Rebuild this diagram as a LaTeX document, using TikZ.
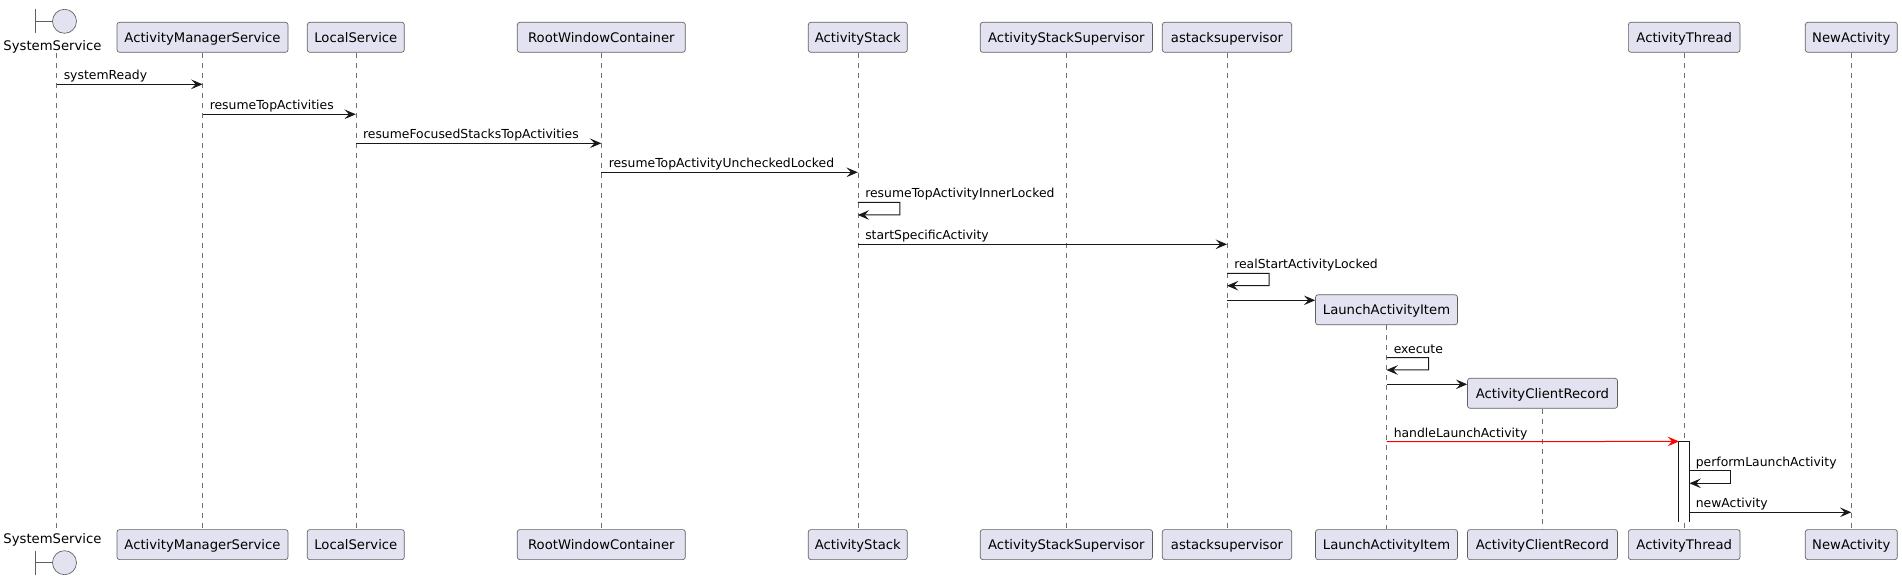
\documentclass[tikz,border=0pt]{standalone}
\usepackage{fontspec}
\setmainfont{DejaVu Sans}
\usetikzlibrary{arrows.meta}
\definecolor{pbox}{HTML}{E2E2F0}
\definecolor{pline}{HTML}{181818}
\definecolor{pborder}{HTML}{606060}
\definecolor{plife}{HTML}{707070}
\definecolor{hred}{HTML}{FF0000}
\begin{document}
\begin{tikzpicture}[x=0.75pt,y=-0.75pt,
  part/.style={draw=pborder, line width=0.5pt, fill=pbox, rounded corners=1.9pt,
    minimum height=22.5pt, inner sep=0pt, text height=0.74em, text depth=0pt,
    font=\fontsize{9.9}{12}\selectfont},
  plabel/.style={inner sep=0pt, font=\fontsize{9.9}{12}\selectfont},
  bnd/.style={draw=pborder, line width=0.5pt},
  life/.style={draw=plife, line width=0.45pt, dash pattern=on 3.75pt off 3.75pt},
  msg/.style={font=\fontsize{9.3}{11}\selectfont, inner sep=0pt, anchor=base west},
  arr/.style={draw=pline, line width=0.75pt, -{Stealth[length=8.5pt,width=7.2pt,inset=3.4pt]}},
  redarr/.style={arr, draw=hred},
  actline/.style={draw=pline, line width=0.75pt},
]
\useasboundingbox (0,0) rectangle (1902,580);

% ---- SystemService (boundary) ----
\draw[bnd] (35.3,9.3) -- (35.3,33.3);
\draw[bnd] (35.3,21.3) -- (52.5,21.3);
\draw[bnd, fill=pbox] (64.5,21.3) circle[radius=12];
\node[plabel, anchor=base] (sysLT) at (52.5,50.5) {SystemService};
\node[plabel, anchor=base] (sysLB) at (52.5,543.5) {SystemService};
\draw[bnd] (35.3,550.7) -- (35.3,574.7);
\draw[bnd] (35.3,562.7) -- (52.5,562.7);
\draw[bnd, fill=pbox] (64.5,562.7) circle[radius=12];
\coordinate (sysTop) at (56.7,53);
\coordinate (sysBot) at (56.7,529.3);

% ---- participants top ----
\node[part, minimum width={171*0.75pt}]   (amsT)  at (202.5,37.3) {ActivityManagerService};
\node[part, minimum width={97*0.75pt}]    (locT)  at (355.8,37.3) {LocalService};
\node[part, minimum width={168*0.75pt}]   (rwcT)  at (601.3,37.3) {RootWindowContainer};
\node[part, minimum width={99*0.75pt}]    (asT)   at (857.8,37.3) {ActivityStack};
\node[part, minimum width={172.3*0.75pt}] (assT)  at (1066.4,37.3) {ActivityStackSupervisor};
\node[part, minimum width={129.4*0.75pt}] (astkT) at (1227,37.3) {astacksupervisor};
\node[part, minimum width={111.7*0.75pt}] (atT)   at (1684.2,37.3) {ActivityThread};
\node[part, minimum width={92*0.75pt}]    (naT)   at (1851.3,37.3) {NewActivity};
% created participants
\node[part, minimum width={142*0.75pt}]   (laiC)  at (1386.5,309.8) {LaunchActivityItem};
\node[part, minimum width={150*0.75pt}]   (acrC)  at (1542.5,393.3) {ActivityClientRecord};

% ---- participants bottom ----
\node[part, minimum width={171*0.75pt}]   (amsB)  at (202.5,544.6) {ActivityManagerService};
\node[part, minimum width={97*0.75pt}]    (locB)  at (355.8,544.6) {LocalService};
\node[part, minimum width={168*0.75pt}]   (rwcB)  at (601.3,544.6) {RootWindowContainer};
\node[part, minimum width={99*0.75pt}]    (asB)   at (857.8,544.6) {ActivityStack};
\node[part, minimum width={172.3*0.75pt}] (assB)  at (1066.4,544.6) {ActivityStackSupervisor};
\node[part, minimum width={129.4*0.75pt}] (astkB) at (1227,544.6) {astacksupervisor};
\node[part, minimum width={142*0.75pt}]   (laiB)  at (1386.5,544.6) {LaunchActivityItem};
\node[part, minimum width={150*0.75pt}]   (acrB)  at (1542.5,544.6) {ActivityClientRecord};
\node[part, minimum width={111.7*0.75pt}] (atB)   at (1684.2,544.6) {ActivityThread};
\node[part, minimum width={92*0.75pt}]    (naB)   at (1851.3,544.6) {NewActivity};

% ---- lifelines ----
\draw[life] (sysTop) -- (sysBot);
\draw[life] (amsT) -- (amsB);
\draw[life] (locT) -- (locB);
\draw[life] (rwcT) -- (rwcB);
\draw[life] (asT) -- (asB);
\draw[life] (assT) -- (assB);
\draw[life] (astkT) -- (astkB);
\draw[life] (laiC) -- (laiB);
\draw[life] (acrC) -- (acrB);
\draw[life] (atT) -- (atB);
\draw[life] (naT) -- (naB);

% ---- activation on ActivityThread ----
\node[minimum width=7.5pt, minimum height=60pt, inner sep=0pt, fill=white] (actv) at (1684.2,481.7) {};
\draw[actline] (actv.south west) -- (actv.north west) -- (actv.north east) -- (actv.south east);

% ---- messages ----
\draw[arr] (sysTop |- 0,84.3) -- (amsT |- 0,84.3);
\node[msg] (l1) at (63.5,80) {systemReady};

\draw[arr] (amsT |- 0,114.3) -- (locT |- 0,114.3);
\node[msg] (l2) at (209.5,110) {resumeTopActivities};

\draw[arr] (locT |- 0,143.3) -- (rwcT |- 0,143.3);
\node[msg] (l3) at (362.8,139) {resumeFocusedStacksTopActivities};

\draw[arr] (rwcT |- 0,172.3) -- (asT |- 0,172.3);
\node[msg] (l4) at (608.5,168) {resumeTopActivityUncheckedLocked};

\draw[arr] (asT |- 0,202.3) -- ++(42,0) -- ++(0,12.7) -- (asT |- 0,215);
\node[msg] (l5) at (865,198) {resumeTopActivityInnerLocked};

\draw[arr] (asT |- 0,244.3) -- (astkT |- 0,244.3);
\node[msg] (l6) at (865,240) {startSpecificActivity};

\draw[arr] (astkT |- 0,273.3) -- ++(42,0) -- ++(0,12.4) -- (astkT |- 0,285.7);
\node[msg] (l7) at (1234,269) {realStartActivityLocked};

\draw[arr] (astkT |- 0,300.3) -- (laiC.west |- 0,300.3);

\draw[arr] (laiC |- 0,357.7) -- ++(42,0) -- ++(0,12.3) -- (laiC |- 0,370);
\node[msg] (l9) at (1393.5,353.4) {execute};

\draw[arr] (laiC |- 0,384.3) -- (acrC.west |- 0,384.3);

\draw[redarr] (laiC |- 0,441.7) -- (actv.north west);
\node[msg] (l11) at (1393.5,437.4) {handleLaunchActivity};

\draw[arr] (actv.east |- 0,470.7) -- ++(41,0) -- ++(0,12.6) -- (actv.east |- 0,483.3);
\node[msg] (l12) at (1695.5,466.4) {performLaunchActivity};

\draw[arr] (actv.east |- 0,512.3) -- (naT |- 0,512.3);
\node[msg] (l13) at (1695.5,508) {newActivity};
\end{tikzpicture}
\end{document}
